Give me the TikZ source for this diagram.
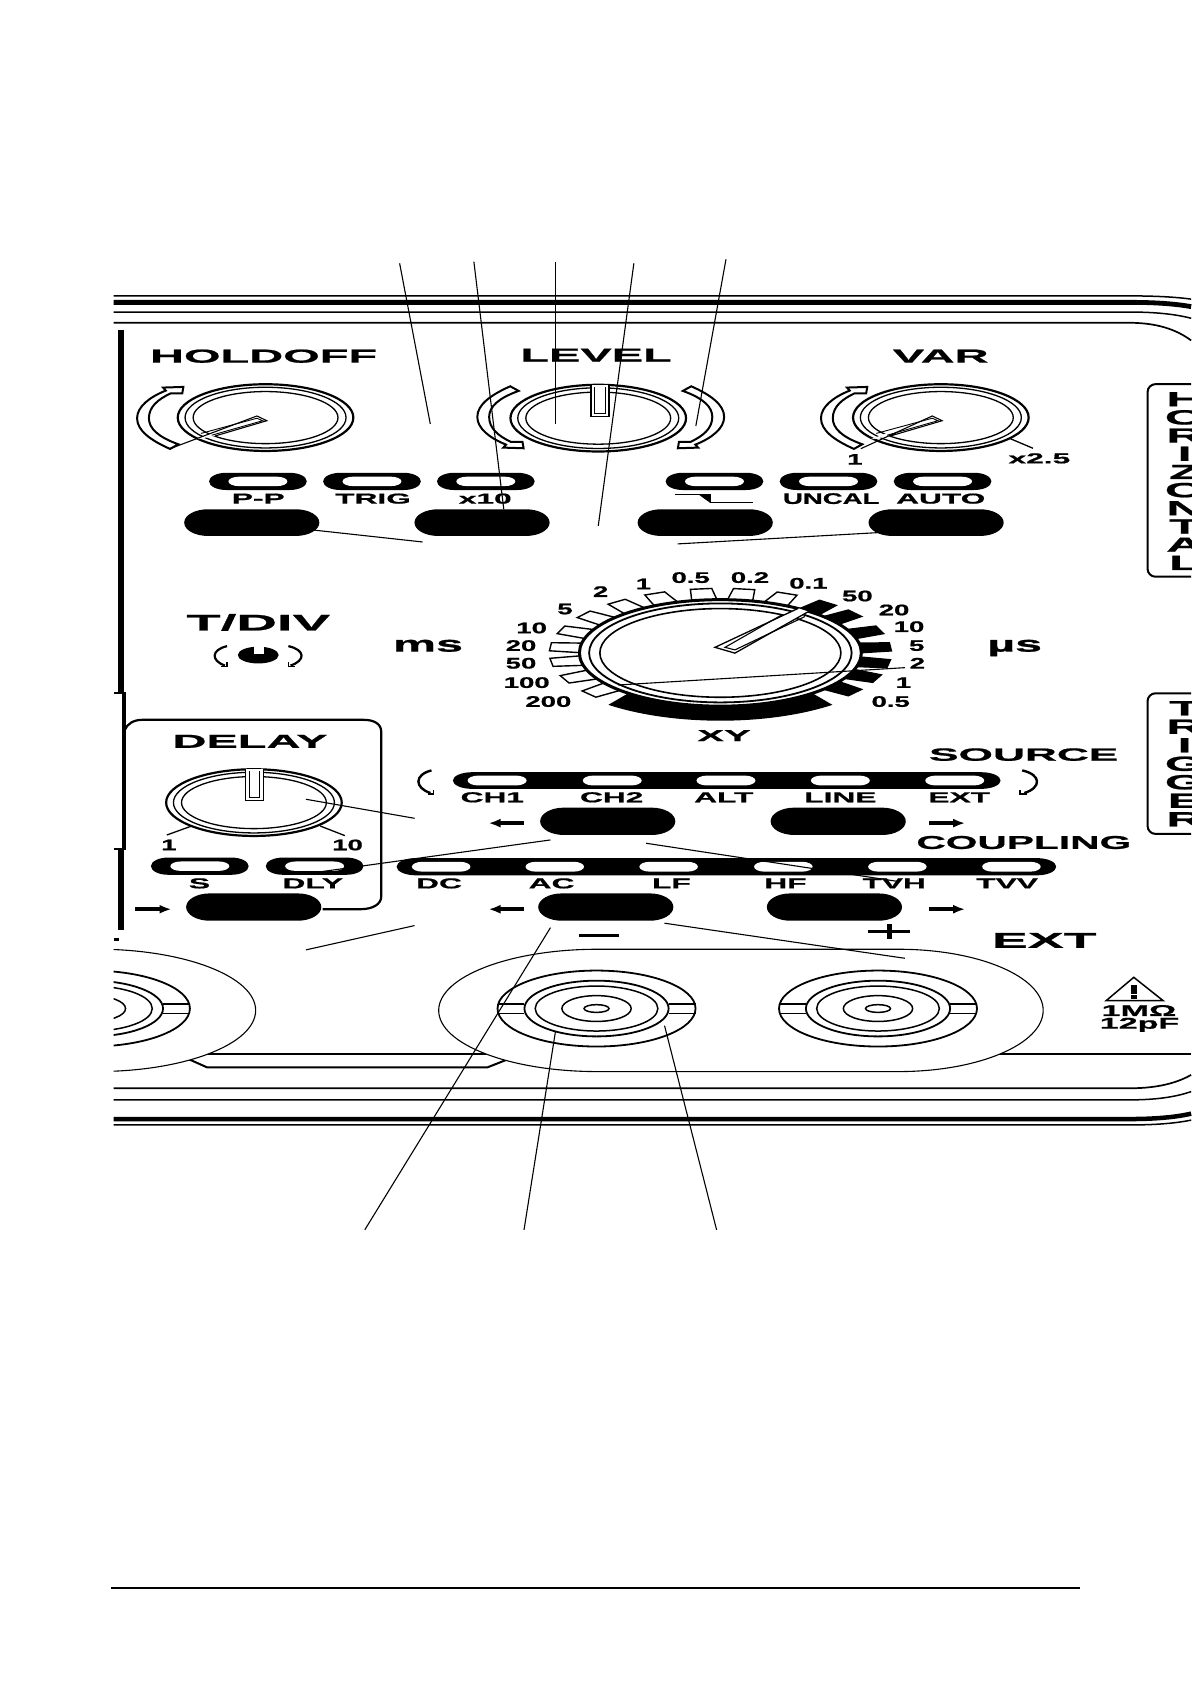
\documentclass[tikz,border=0pt]{standalone}
\usepackage{fontspec}
\usetikzlibrary{arrows.meta}
\newfontfamily\widefont[FakeStretch=2.5,FakeBold=1]{Liberation Sans}
\newfontfamily\midfont[FakeStretch=2.2,FakeBold=1]{Liberation Sans}
\newfontfamily\slimfont[FakeStretch=1.8,FakeBold=1]{Liberation Sans}
\tikzset{
  paneltitle/.style={font=\widefont\bfseries\fontsize{18.8}{20}\selectfont,inner sep=0pt},
  lamptext/.style={font=\midfont\bfseries\fontsize{14.4}{16}\selectfont,inner sep=0pt},
  dialtext/.style={font=\slimfont\bfseries\fontsize{15.3}{16}\selectfont,inner sep=0pt},
  lead/.style={line width=1.1pt},
  ring/.style={line width=1.3pt},
  fatarrow/.style={-{Latex[length=12pt,width=9pt]},line width=4pt}
}
% pill: fill, centre x, centre y, half width, half height, end radius
\newcommand{\pillshape}[6]{
  \fill[#1] (#2-#4+#6,#3-#5) -- (#2+#4-#6,#3-#5)
    arc[start angle=-90,end angle=90,x radius=#6,y radius=#5]
    -- (#2-#4+#6,#3+#5)
    arc[start angle=90,end angle=270,x radius=#6,y radius=#5] -- cycle;
}
% lamp: black pill with a white window
\newcommand{\lampshape}[2]{
  \pillshape{black}{#1}{#2}{45.4}{8}{16}
  \pillshape{white}{#1}{#2}{27.4}{4.4}{10}
}
% hollow turning arrow beside a knob, head upward on the left by default
\newcommand{\turnarrow}[4]{
  \begin{scope}[shift={(#1,#2)},xscale=#3,yscale=#4]
    \draw[fill=white,line width=2pt,line join=miter]
      (-88.8,29.1) .. controls (-107,21) and (-119.4,12) .. (-119.4,.6)
      .. controls (-119.4,-10) and (-108,-19) .. (-92.7,-25.1)
      -- (-95.2,-27.9) -- (-76.4,-28.5) -- (-77.4,-22.6) -- (-88.1,-22.6)
      .. controls (-100,-17) and (-108.4,-10) .. (-108.4,.6)
      .. controls (-108.4,10) and (-100,18) .. (-81,24.8) -- cycle;
  \end{scope}
}
% three rings of a small knob
\newcommand{\knobrings}[2]{
  \draw[fill=white,line width=2.2pt] (#1,#2) circle[x radius=81.6,y radius=31];
  \draw[ring] (#1,#2) circle[x radius=74.8,y radius=28.2];
  \draw[ring] (#1,#2) circle[x radius=67.3,y radius=24.2];
}
% rings of a BNC socket
\newcommand{\bncshape}[2]{
  \draw[line width=1.8pt] (#1,#2) circle[x radius=92,y radius=35.3];
  \draw[line width=1.8pt] (#1,#2) circle[x radius=67,y radius=25.9];
  \draw[line width=1.5pt] (#1,#2) circle[x radius=57,y radius=20.9];
  \draw[line width=1.5pt] (#1,#2) circle[x radius=32.2,y radius=12];
  \draw[line width=1.5pt] (#1,#2) circle[x radius=11.6,y radius=3.6];
  \foreach \s in {-1,1} {
    \draw[line width=1.2pt] (#1+\s*67,#2-4.3) -- (#1+\s*92,#2-4.3);
    \draw[line width=1.2pt] (#1+\s*67,#2+4.3) -- (#1+\s*92,#2+4.3);
  }
}
\begin{document}
\begin{tikzpicture}[x=1.0759pt,y=1.0759pt,yscale=-1,line cap=butt]
  \useasboundingbox (0,0) rectangle (1107,1566);

  % panel edges, top and bottom
  \foreach \ya/\yb/\w in {275/278/1.5, 281/285/4.8, 290/295.8/1.5, 300/316.4/1.7,
                          1011.4/999/1.7, 1022.2/1014.5/1.5, 1040/1035/4.5, 1045.5/1041/1.5} {
    \draw[line width=\w pt] (105.5,\ya) -- (1050,\ya)
      .. controls (1080,\ya) and (1097,{\ya+.55*(\yb-\ya)}) .. (1107,\yb);
  }

  % left side bars
  \fill (110,307) rectangle (115,644);
  \fill (113,643) rectangle (117,790);
  \fill (110,790) rectangle (115,864);
  \fill (105.5,643) rectangle (113,645);
  \fill (105.5,788) rectangle (113,790);
  \fill (105.5,872) rectangle (110.5,874.5);

  % side boxes
  \draw[line width=2pt,rounded corners=8] (1107,357) -- (1066.5,357) -- (1066.5,536) -- (1107,536);
  \draw[line width=2pt,rounded corners=8] (1107,644.3) -- (1066.5,644.3) -- (1066.5,775) -- (1107,775);
  \begin{scope}[shift={(1101,0)}]
    \foreach \letter [count=\i] in {H,O,R,I,Z,O,N,T,A,L}
      \node[paneltitle,font=\widefont\bfseries\fontsize{20.5}{20}\selectfont] (hor\i) at (0,{371+(\i-1)*16.9}) {\letter};
    \foreach \letter [count=\i] in {T,R,I,G,G,E,R}
      \node[paneltitle,font=\widefont\bfseries\fontsize{20.5}{20}\selectfont] (trg\i) at (0,{658.2+(\i-1)*17.2}) {\letter};
  \end{scope}

  % titles
  \node[paneltitle] (holdoff) at (245,331) {HOLDOFF};
  \node[paneltitle] (level) at (554,330) {LEVEL};
  \node[paneltitle] (var) at (874.3,331) {VAR};
  \node[paneltitle,font=\widefont\bfseries\fontsize{22.5}{22}\selectfont] (tdiv) at (240,578.5) {T/DIV};
  \node[paneltitle] (delay) at (232.4,689) {DELAY};
  \node[paneltitle,font=\widefont\bfseries\fontsize{17.7}{20}\selectfont] (source) at (951.4,701.3) {SOURCE};
  \node[paneltitle,font=\midfont\bfseries\fontsize{18.5}{20}\selectfont] (coupling) at (951.5,783) {COUPLING};
  \node[paneltitle,font=\widefont\bfseries\fontsize{21.5}{20}\selectfont] (extbig) at (970.5,874) {EXT};
  \node[paneltitle,anchor=base,font=\midfont\bfseries\fontsize{22}{22}\selectfont] (ms) at (397.8,605.6) {ms};
  \node[paneltitle,anchor=base,font=\midfont\bfseries\fontsize{22}{22}\selectfont] (us) at (943,605.6) {µs};
  \node[paneltitle,font=\widefont\bfseries\fontsize{16}{16}\selectfont] (xy) at (672.9,683.7) {XY};

  % turning arrows
  \turnarrow{246.8}{388.1}{1}{1}
  \turnarrow{563}{388.1}{1}{-1}
  \turnarrow{553.6}{388.1}{-1}{-1}
  \turnarrow{882.4}{388.1}{1}{1}

  % small knobs
  \foreach \kx/\ky in {246.8/388.1, 556/388.6, 874.4/388.1, 236/745.9} {
    \knobrings{\kx}{\ky}
  }

  % slanted pointers
  \foreach \kx/\far in {246.8/-88.8, 874.4/-74.4} {
    \fill[white] (\kx-8,386.6) -- (\kx+1.2,391) -- (\kx-47,405.2) -- (\kx-66,408.5) -- cycle;
    \draw[line width=1.1pt] (\kx+\far,417) -- (\kx-8,386.6) -- (\kx+1.2,391) -- (\kx-47,405.2);
    \draw[line width=.9pt] (\kx-60,402.8) -- (\kx-8,388.7) -- (\kx-2.7,391) -- (\kx-50,404.5);
  }
  % upright pointers
  \foreach \kx/\ka/\kb/\ky in {556/-6.7/10/357.8, 236/-8/8.8/714.9} {
    \draw[fill=white,line width=1.1pt] (\kx+\ka,\ky) -- (\kx+\ka,\ky+29) -- (\kx+\kb,\ky+29) -- (\kx+\kb,\ky);
    \draw[line width=.9pt] (\kx+\ka+3.4,\ky+2) -- (\kx+\ka+3.4,\ky+26.5) -- (\kx+\kb-3.4,\ky+26.5) -- (\kx+\kb-3.4,\ky+2);
  }

  % small scale marks
  \draw[line width=1.3pt] (938,407.3) -- (960,416.6);
  \draw[line width=1.3pt] (155.1,776) -- (178.3,767.6);
  \draw[line width=1.3pt] (320.5,776.6) -- (297.4,767.6);
  \node[dialtext] (varmin) at (794.5,426.9) {1};
  \node[lamptext] (varmax) at (966,426) {x2.5};
  \node[dialtext] (delmin) at (157,785.3) {1};
  \node[dialtext] (delmax) at (323,785.3) {10};

  % lamps of the top row and their buttons
  \foreach \lx in {239.7,345.7,451.5,664,770,876} {
    \lampshape{\lx}{447.4}
  }
  \foreach \bx in {234,448,655.4,870} {
    \pillshape{black}{\bx}{485.7}{62.8}{12.4}{22}
  }
  \foreach \lx/\ltext [count=\i] in {240/P-P,346.7/TRIG,451/x10,874.3/AUTO}
    \node[lamptext] (top\i) at (\lx,463.4) {\ltext};
  \node[dialtext] (uncal) at (772.5,463.4) {UNCAL};

  % step symbol
  \draw[line width=1.5pt] (627,459.4) -- (660.2,459.4) -- (660.2,466.8) -- (699.7,466.8);
  \fill (649,459.4) -- (660.2,459.4) -- (660.2,467.5) -- cycle;

  % T/DIV symbol
  \fill (221,608.8) arc[start angle=180,end angle=-180,x radius=19,y radius=7.8];
  \fill[white] (236.5,600) rectangle (245,608);
  \draw[line width=2.2pt] (211,600.5) .. controls (196,604) and (196,614) .. (209,618.5);
  \draw[line width=2.2pt] (268,600.5) .. controls (284,604) and (284,614) .. (270,618.5);
  \draw[line width=1.6pt] (205,619.5) -- (211,619.5) -- (211,615);
  \draw[line width=1.6pt] (274,619.5) -- (268,619.5) -- (268,615);

  % main dial
  \begin{scope}[shift={(669.5,606.8)}]
    \foreach \ang/\tickcol in {263.5/white,278/white,293/white,247.4/white,232.6/white,216.8/white,
                               201/white,185.5/white,171.6/white,155.8/white,140.3/white,
                               309/black,322/black,339/black,354.6/black,9.7/black,23.5/black,38/black}
      \draw[fill=\tickcol,line width=1.4pt] ({\ang-5.4}:128 and 48) -- ({\ang-3.6}:159 and 60)
        -- ({\ang+3.6}:159 and 60) -- ({\ang+5.4}:128 and 48) -- cycle;
    \fill (130:162 and 63) arc[start angle=130,end angle=50,x radius=162,y radius=63]
      -- (50:125 and 45) -- (130:125 and 45) -- cycle;
    \draw[fill=white,line width=3pt] (0,0) circle[x radius=131,y radius=49.5];
    \draw[line width=1.8pt] (0,0) circle[x radius=122,y radius=46];
    \draw[line width=1.6pt] (0,0) circle[x radius=112,y radius=41.2];
    % pointer
    \fill[white] (-5,-5.2) -- (72.5,-41.5) -- (81.8,-38.4) -- (13.5,.2) -- cycle;
    \draw[line width=1.3pt] (72.5,-41.5) -- (-5,-5.2) -- (13.5,.2) -- (81.8,-38.4);
    \draw[line width=1.1pt] (57,-35.3) -- (4.3,-5.2) -- (13.5,-2.8) -- (78.5,-33.8);
  \end{scope}

  % dial numbers
  \foreach \nx/\ny/\ntext [count=\i] in {
      597.9/542.7/1, 641.9/536.8/0.5, 697/536.8/0.2, 751.3/542.1/0.1, 796.8/553.9/50,
      830.9/566.9/20, 844.8/582.4/10, 852/600/5, 852.6/616.4/2, 839.6/634.4/1, 827.8/652/0.5,
      558.2/549.8/2, 525.1/566/5, 494.1/583.6/10, 484.2/600/20, 484.2/616.4/50,
      489.5/634.4/100, 509.6/652/200}
    \node[dialtext] (num\i) at (\nx,\ny) {\ntext};

  % delay frame
  \draw[line width=2.2pt] (116,678.4) .. controls (118,673) and (124,669) .. (132,669) -- (338.3,669)
    .. controls (348,669) and (354.3,673) .. (354.3,680) -- (354.3,833.3)
    .. controls (354.3,840) and (347,845) .. (334.8,845) -- (299.9,845);

  % source strip
  \pillshape{black}{675.4}{725.4}{254.5}{7.75}{18}
  \foreach \wx in {462,569,674.7,781,887.3} {
    \pillshape{white}{\wx}{725.4}{27.4}{4.6}{10}
  }
  \foreach \lx/\ltext [count=\i] in {457.5/CH1,568.5/CH2,672.7/ALT,781/LINE,891.5/EXT}
    \node[lamptext] (src\i) at (\lx,741) {\ltext};
  \draw[line width=2.4pt] (401,716) .. controls (385,720) and (385,732) .. (400,737);
  \draw[line width=1.5pt] (398,738) -- (403,738) -- (403,734);
  \draw[line width=2.4pt] (950,716) .. controls (968,720) and (968,732) .. (952,737);
  \draw[line width=1.5pt] (954,738) -- (948,738) -- (948,734);

  % buttons, arrows
  \foreach \bx/\by in {564.8/763.3, 779/763.3, 235.8/843, 563/843, 775.5/843} {
    \pillshape{black}{\bx}{\by}{62.8}{12.7}{22}
  }
  \coordinate (srcla) at (486.6,765);  \coordinate (srclb) at (454,765);
  \coordinate (srcra) at (863.5,765);  \coordinate (srcrb) at (897,765);
  \coordinate (cpla) at (486.6,845);   \coordinate (cplb) at (454,845);
  \coordinate (cpra) at (863.5,845);   \coordinate (cprb) at (897,845);
  \coordinate (dlya) at (125.6,845);   \coordinate (dlyb) at (159.4,845);
  \foreach \from/\to in {srcla/srclb,srcra/srcrb,cpla/cplb,cpra/cprb,dlya/dlyb}
    \draw[fatarrow] (\from) -- (\to);

  % delay lamps and coupling strip
  \lampshape{185.7}{805}
  \lampshape{292.4}{805}
  \pillshape{black}{675.1}{805.5}{306.5}{8}{18}
  \foreach \wx in {410,515.6,621.4,728,834,940} {
    \pillshape{white}{\wx}{805.5}{27.2}{4.6}{10}
  }
  \foreach \lx/\ltext [count=\i] in {185.4/S,290.7/DLY,408/DC,512.6/AC,624/LF,730/HF,831/TVH,936/TVV}
    \node[lamptext] (cpl\i) at (\lx,821) {\ltext};

  % minus, plus
  \fill (538.2,868) rectangle (574.9,871);
  \fill (807,864.3) rectangle (845.5,867.3);
  \fill (824,859) rectangle (829,872.5);

  % lower part of the panel
  \draw[line width=1.3pt] (192.5,979.6) -- (452,979.6);
  \draw[line width=1.3pt] (925,979.6) -- (1107,979.6);
  \draw[line width=2pt] (175.7,984.5) -- (192.5,992) -- (453,992) -- (471.8,984.5);

  % connector plate
  \draw[fill=white,line width=1.1pt] (555.3,882.2) -- (835,882.2)
    arc[start angle=-90,end angle=90,x radius=134.5,y radius=56.85]
    -- (555.3,995.9) arc[start angle=90,end angle=270,x radius=147.6,y radius=56.85] -- cycle;
  \begin{scope}
    \clip (105.5,870) rectangle (300,1005);
    \draw[fill=white,line width=1.1pt] (90,939) circle[x radius=147.6,y radius=56.85];
    \bncshape{84.5}{937.3}
  \end{scope}
  \bncshape{554.4}{937.3}
  \bncshape{816}{937.3}

  % warning mark
  \draw[line width=1.5pt,line join=miter] (1053.7,908.3) -- (1028,930) -- (1081,930) -- cycle;
  \fill (1051,915.3) rectangle (1057,923.7);
  \fill (1051,925) rectangle (1057,928);
  \node[lamptext,anchor=base,font=\midfont\bfseries\fontsize{15.5}{16}\selectfont] (ohm) at (1058.5,944.2) {1MΩ};
  \node[lamptext,anchor=base,font=\midfont\bfseries\fontsize{15.5}{16}\selectfont] (farad) at (1059,956) {12pF};

  % leaders, top
  \draw[lead] (371.4,244.7) -- (399.9,394);
  \draw[lead] (440.4,243.1) -- (468.2,473.3);
  \draw[lead] (516.2,243.1) -- (516.2,394);
  \draw[lead] (589.1,244.7) -- (556,488.8);
  \draw[lead] (674.7,241) -- (646.7,395.9);
  % leaders, middle
  \draw[lead] (290.3,492.5) -- (392.8,503.7);
  \draw[lead] (629.7,505.5) -- (816,495);
  \draw[lead] (841,620.5) -- (574.7,636.6);
  \draw[lead] (284.3,742.8) -- (385.3,760.5);
  \draw[lead] (511.6,780.6) -- (292,811);
  \draw[lead] (600.5,783.7) -- (835.3,819.3);
  \draw[lead] (385.3,860.2) -- (284.3,882.8);
  \draw[lead] (617.6,858) -- (841,890.6);
  % leaders, bottom
  \draw[lead] (511.6,862.1) -- (339,1143);
  \draw[lead] (516.2,958.8) -- (487,1143);
  \draw[lead] (617.6,953.2) -- (666,1143);

  % foot rule
  \draw[line width=2.3pt] (103,1476) -- (1004,1476);
\end{tikzpicture}
\end{document}
